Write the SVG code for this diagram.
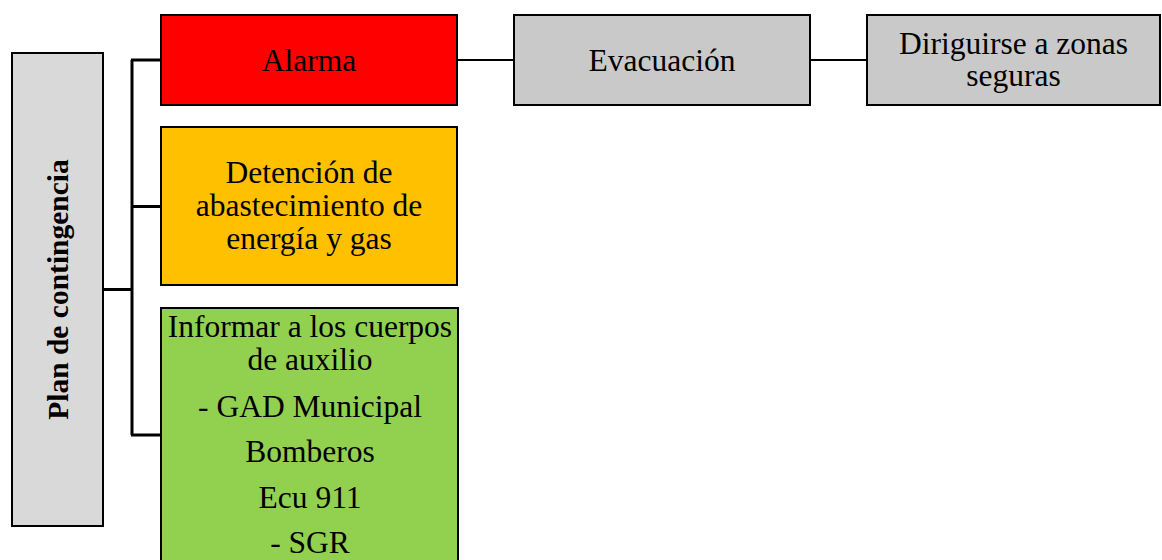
<svg xmlns="http://www.w3.org/2000/svg" width="1162" height="560" viewBox="0 0 1162 560">
<style>
.box{stroke:#000;stroke-width:2}
.t{font-family:"Liberation Serif","Times New Roman",serif;font-size:31.5px;fill:#000;text-anchor:middle}
.tb{font-family:"Liberation Serif","Times New Roman",serif;font-size:29.5px;font-weight:bold;fill:#000;text-anchor:middle}
.c{fill:none;stroke:#000;stroke-width:3}
.c2{fill:none;stroke:#000;stroke-width:2}
</style>
<rect width="1162" height="560" fill="#fff"/>
<g id="connectors">
<path class="c" d="M103 289.5H132M132 60V435M131 60H161M131 206.5H161M131 435H161"/>
<path class="c2" d="M457 60H514M810 60H867"/>
</g>
<g id="plan">
<rect class="box" x="12" y="53" width="91" height="473" fill="#d9d9d9"/>
<text class="tb" transform="translate(68 289.5) rotate(-90)">Plan de contingencia</text>
</g>
<g id="alarma">
<rect class="box" x="161" y="15" width="296" height="90" fill="#ff0000"/>
<text class="t" x="309" y="71">Alarma</text>
</g>
<g id="detencion">
<rect class="box" x="161" y="127" width="296" height="158" fill="#ffc000"/>
<text class="t" x="309" y="183">Detención de</text>
<text class="t" x="309" y="216">abastecimiento de</text>
<text class="t" x="309" y="249">energía y gas</text>
</g>
<g id="informar">
<rect class="box" x="161" y="308" width="297" height="262" fill="#92d050"/>
<text class="t" x="310" y="337">Informar a los cuerpos</text>
<text class="t" x="310" y="370">de auxilio</text>
<text class="t" x="310" y="417">- GAD Municipal</text>
<text class="t" x="310" y="462">Bomberos</text>
<text class="t" x="310" y="508">Ecu 911</text>
<text class="t" x="310" y="553">- SGR</text>
</g>
<g id="evacuacion">
<rect class="box" x="514" y="15" width="296" height="90" fill="#c9c9c9"/>
<text class="t" x="662" y="71">Evacuación</text>
</g>
<g id="dirigirse">
<rect class="box" x="867" y="15" width="293" height="90" fill="#c9c9c9"/>
<text class="t" x="1013.5" y="54">Diriguirse a zonas</text>
<text class="t" x="1013.5" y="86">seguras</text>
</g>
</svg>
